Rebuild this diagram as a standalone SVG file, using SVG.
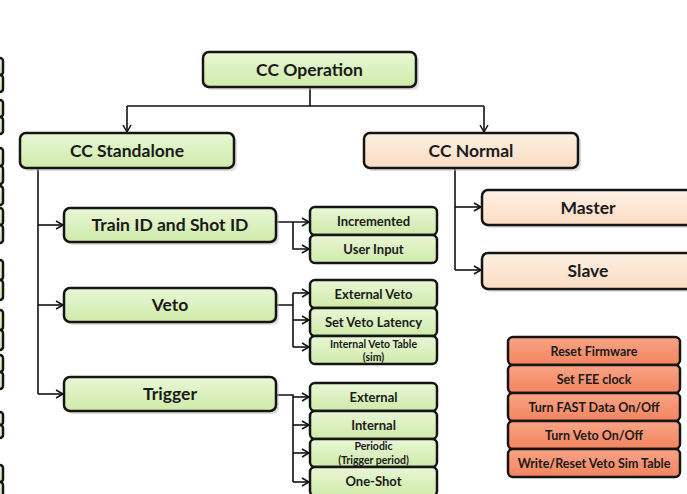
<svg xmlns="http://www.w3.org/2000/svg" width="687" height="494" viewBox="0 0 687 494">
<defs>
<linearGradient id="gG" x1="0" y1="0" x2="0" y2="1"><stop offset="0" stop-color="#e9f7d6"/><stop offset="1" stop-color="#cfeaa9"/></linearGradient>
<linearGradient id="gP" x1="0" y1="0" x2="0" y2="1"><stop offset="0" stop-color="#fef0e4"/><stop offset="1" stop-color="#fbdcc3"/></linearGradient>
<linearGradient id="gR" x1="0" y1="0" x2="0" y2="1"><stop offset="0" stop-color="#f9a486"/><stop offset="1" stop-color="#f3845f"/></linearGradient>
<marker id="ar" markerWidth="10" markerHeight="10" refX="8" refY="5" orient="auto" markerUnits="userSpaceOnUse"><path d="M1,1 L8,5 L1,9" fill="none" stroke="#111" stroke-width="1.5"/></marker>
</defs>
<style>
.g{fill:url(#gG);stroke:#151515;stroke-width:2.5}
.p{fill:url(#gP);stroke:#151515;stroke-width:2.5}
.r{fill:url(#gR);stroke:#151515;stroke-width:2.5}
.sh{fill:#bdbdbd;opacity:.5}
.c{fill:none;stroke:#111;stroke-width:1.6}
text{font-family:Lato,"Open Sans","Liberation Sans",sans-serif;font-weight:bold;fill:#1a1a1a;text-anchor:middle}
.t1{font-size:17.5px}
.t2{font-size:13px}
.t3{font-size:10.5px}
.t4{font-size:12.5px}
</style>
<rect width="687" height="494" fill="#fff"/>
<g id="left-stubs">
<rect class="g" x="-20" y="58" width="23" height="17" rx="3"/><rect class="g" x="-20" y="75" width="23" height="17" rx="3"/>
<rect class="g" x="-20" y="100" width="23" height="17" rx="3"/><rect class="g" x="-20" y="117" width="23" height="17" rx="3"/>
<rect class="g" x="-20" y="148" width="23" height="18" rx="3"/><rect class="g" x="-20" y="166" width="23" height="18" rx="3"/>
<rect class="g" x="-20" y="186" width="23" height="19" rx="3"/>
<rect class="g" x="-20" y="208" width="23" height="17" rx="3"/><rect class="g" x="-20" y="225" width="23" height="18" rx="3"/>
<rect class="g" x="-20" y="260" width="23" height="20" rx="3"/><rect class="g" x="-20" y="280" width="23" height="20" rx="3"/>
<rect class="g" x="-20" y="310" width="23" height="20" rx="3"/><rect class="g" x="-20" y="330" width="23" height="20" rx="3"/>
<rect class="g" x="-20" y="355" width="23" height="17" rx="3"/><rect class="g" x="-20" y="372" width="23" height="17" rx="3"/>
<rect class="g" x="-20" y="412" width="23" height="13" rx="3"/><rect class="g" x="-20" y="425" width="23" height="13" rx="3"/>
<rect class="g" x="-20" y="465" width="23" height="17" rx="3"/><rect class="g" x="-20" y="482" width="23" height="17" rx="3"/>
</g>
<g id="connectors">
<path class="c" d="M310,87 V106 M127,106 H484"/>
<path class="c" d="M127,106 V132" marker-end="url(#ar)"/>
<path class="c" d="M484,106 V132" marker-end="url(#ar)"/>
<path class="c" d="M38,168 V394"/>
<path class="c" d="M38,225 H63" marker-end="url(#ar)"/>
<path class="c" d="M38,305 H63" marker-end="url(#ar)"/>
<path class="c" d="M38,394 H63" marker-end="url(#ar)"/>
<path class="c" d="M276,222 H309" marker-end="url(#ar)"/>
<path class="c" d="M293,222 V249 H309" marker-end="url(#ar)"/>
<path class="c" d="M276,305 H293 M293,293 V347"/>
<path class="c" d="M293,293 H309" marker-end="url(#ar)"/>
<path class="c" d="M293,320 H309" marker-end="url(#ar)"/>
<path class="c" d="M293,347 H309" marker-end="url(#ar)"/>
<path class="c" d="M276,395 H293 V482"/>
<path class="c" d="M293,397 H309" marker-end="url(#ar)"/>
<path class="c" d="M293,425 H309" marker-end="url(#ar)"/>
<path class="c" d="M293,453 H309" marker-end="url(#ar)"/>
<path class="c" d="M293,482 H309" marker-end="url(#ar)"/>
<path class="c" d="M455,168 V270"/>
<path class="c" d="M455,207 H481" marker-end="url(#ar)"/>
<path class="c" d="M455,270 H481" marker-end="url(#ar)"/>
</g>
<g id="cc-operation"><rect class="sh" x="206" y="55" width="213" height="35" rx="6"/><rect class="g" x="203" y="52" width="213" height="35" rx="6"/><text class="t1" x="309.5" y="75.5">CC Operation</text></g>
<g id="cc-standalone"><rect class="sh" x="23" y="136" width="214" height="35" rx="6"/><rect class="g" x="20" y="133" width="214" height="35" rx="6"/><text class="t1" x="127" y="156.5">CC Standalone</text></g>
<g id="cc-normal"><rect class="sh" x="367" y="136" width="214" height="35" rx="6"/><rect class="p" x="364" y="133" width="214" height="35" rx="6"/><text class="t1" x="471" y="156.5">CC Normal</text></g>
<g id="train-id"><rect class="sh" x="67" y="211" width="212" height="34" rx="6"/><rect class="g" x="64" y="208" width="212" height="34" rx="6"/><text class="t1" x="170" y="231">Train ID and Shot ID</text></g>
<g id="veto"><rect class="sh" x="67" y="291" width="212" height="34" rx="6"/><rect class="g" x="64" y="288" width="212" height="34" rx="6"/><text class="t1" x="170" y="311">Veto</text></g>
<g id="trigger"><rect class="sh" x="67" y="380" width="212" height="34" rx="6"/><rect class="g" x="64" y="377" width="212" height="34" rx="6"/><text class="t1" x="170" y="400">Trigger</text></g>
<g id="master"><rect class="sh" x="485" y="193" width="220" height="35" rx="6"/><rect class="p" x="482" y="190" width="220" height="35" rx="6"/><text class="t1" x="588" y="213.5">Master</text></g>
<g id="slave"><rect class="sh" x="485" y="256" width="220" height="36" rx="6"/><rect class="p" x="482" y="253" width="220" height="36" rx="6"/><text class="t1" x="588" y="277">Slave</text></g>
<g id="incremented"><rect class="g" x="310" y="207" width="127" height="28" rx="5"/><text class="t2" x="373.5" y="225.5">Incremented</text></g>
<g id="user-input"><rect class="g" x="310" y="235" width="127" height="28" rx="5"/><text class="t2" x="373.5" y="253.5">User Input</text></g>
<g id="external-veto"><rect class="g" x="310" y="280" width="127" height="28" rx="5"/><text class="t2" x="373.5" y="298.5">External Veto</text></g>
<g id="set-veto-latency"><rect class="g" x="310" y="308" width="127" height="28" rx="5"/><text class="t2" x="373.5" y="326.5">Set Veto Latency</text></g>
<g id="internal-veto-table"><rect class="g" x="310" y="336" width="127" height="28" rx="5"/><text class="t3" x="373.5" y="347.5">Internal Veto Table</text><text class="t3" x="373.5" y="360.5">(sim)</text></g>
<g id="external"><rect class="g" x="310" y="383" width="127" height="28" rx="5"/><text class="t2" x="373.5" y="401.5">External</text></g>
<g id="internal"><rect class="g" x="310" y="411" width="127" height="28" rx="5"/><text class="t2" x="373.5" y="429.5">Internal</text></g>
<g id="periodic"><rect class="g" x="310" y="439" width="127" height="28" rx="5"/><text class="t3" x="373.5" y="450">Periodic</text><text class="t3" x="373.5" y="463.5">(Trigger period)</text></g>
<g id="one-shot"><rect class="g" x="310" y="467" width="127" height="29" rx="5"/><text class="t2" x="373.5" y="486">One-Shot</text></g>
<g id="reset-firmware"><rect class="r" x="508" y="337" width="172" height="28" rx="5"/><text class="t4" x="594" y="355.5">Reset Firmware</text></g>
<g id="set-fee-clock"><rect class="r" x="508" y="365" width="172" height="28" rx="5"/><text class="t4" x="594" y="383.5">Set FEE clock</text></g>
<g id="turn-fast-data"><rect class="r" x="508" y="393" width="172" height="28" rx="5"/><text class="t4" x="594" y="411.5">Turn FAST Data On/Off</text></g>
<g id="turn-veto"><rect class="r" x="508" y="421" width="172" height="28" rx="5"/><text class="t4" x="594" y="439.5">Turn Veto On/Off</text></g>
<g id="write-reset-veto"><rect class="r" x="508" y="449" width="172" height="28" rx="5"/><text class="t4" x="594" y="467.5">Write/Reset Veto Sim Table</text></g>
</svg>
